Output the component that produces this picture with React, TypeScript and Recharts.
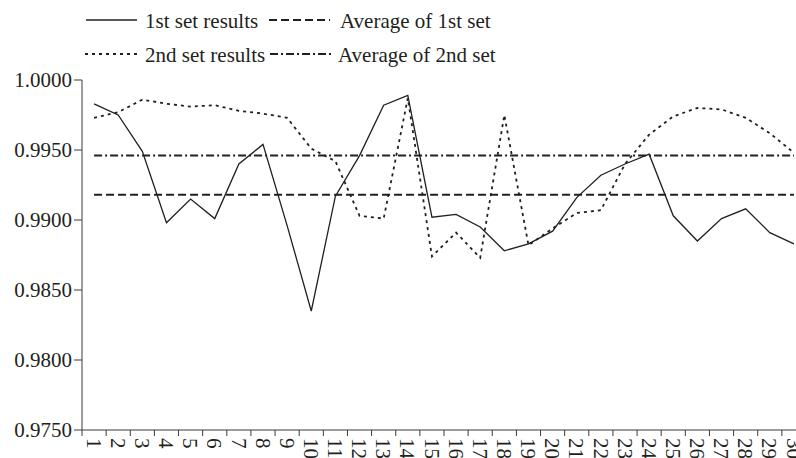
import { LineChart, Line, XAxis, YAxis, Legend } from 'recharts';

const runs = [
  1, 2, 3, 4, 5, 6, 7, 8, 9, 10, 11, 12, 13, 14, 15, 16, 17, 18, 19, 20, 21,
  22, 23, 24, 25, 26, 27, 28, 29, 30,
];

const firstSet = [
  0.9983, 0.9975, 0.9949, 0.9898, 0.9915, 0.9901, 0.994, 0.9954, 0.9896,
  0.9835, 0.9917, 0.9946, 0.9982, 0.9989, 0.9902, 0.9904, 0.9895, 0.9878,
  0.9883, 0.9892, 0.9916, 0.9932, 0.994, 0.9947, 0.9903, 0.9885, 0.9901,
  0.9908, 0.9891, 0.9883,
];

const secondSet = [
  0.9973, 0.9977, 0.9986, 0.9983, 0.9981, 0.9982, 0.9978, 0.9976, 0.9973,
  0.9951, 0.9942, 0.9903, 0.9901, 0.9987, 0.9874, 0.9891, 0.9873, 0.9975,
  0.9882, 0.9894, 0.9905, 0.9907, 0.994, 0.9961, 0.9974, 0.998, 0.9979,
  0.9973, 0.9962, 0.9948,
];

const firstAverage = 0.9918;
const secondAverage = 0.9946;

const yTicks = [0.975, 0.98, 0.985, 0.99, 0.995, 1.0];

const series = [
  { key: 'first', name: '1st set results', dash: undefined, width: 1.3 },
  { key: 'firstAvg', name: 'Average of 1st set', dash: '8 4', width: 2 },
  { key: 'second', name: '2nd set results', dash: '3 4', width: 1.8 },
  { key: 'secondAvg', name: 'Average of 2nd set', dash: '8 3 2 3', width: 2 },
];

const data = runs.map((run, i) => ({
  run,
  first: firstSet[i],
  second: secondSet[i],
  firstAvg: firstAverage,
  secondAvg: secondAverage,
}));

const INK = '#231f20';
const FONT = "'Liberation Serif', 'Times New Roman', serif";
const textStyle = { fontFamily: FONT, fontSize: 21 };

const W = 830;
const H = 470;
const MARGIN = { top: 80, right: 24, left: 0, bottom: 0 };
const Y_WIDTH = 82;
const HALF_BAND = (W - MARGIN.right - Y_WIDTH) / runs.length / 2;

// tick lines sit on the boundaries between runs, labels in the middle
const boundaries = [0, ...runs].map((r) => r + 0.5);

const RunTick = (props: any) => {
  const { x, y, payload } = props;
  const label = payload.value + 0.5;
  if (label > runs.length) return null;
  const cx = x + HALF_BAND;
  return (
    <text
      x={cx}
      y={y}
      dy="0.35em"
      transform={`rotate(90, ${cx}, ${y})`}
      textAnchor="start"
      style={textStyle}
      fill={INK}
    >
      {label}
    </text>
  );
};

const ValueTick = (props: any) => {
  const { x, y, payload } = props;
  return (
    <text
      x={x}
      y={y}
      dy="0.35em"
      textAnchor="end"
      style={textStyle}
      fill={INK}
    >
      {payload.value.toFixed(4)}
    </text>
  );
};

const legendSlots = [
  { sx: 86, sw: 51, tx: 145, y: 20 },
  { sx: 269, sw: 61, tx: 340, y: 20 },
  { sx: 85, sw: 52, tx: 145, y: 54 },
  { sx: 270, sw: 63, tx: 338, y: 54 },
];

const SetLegend = () => (
  <svg width={520} height={72}>
    {series.map((s, i) => {
      const slot = legendSlots[i];
      return (
        <g key={s.key}>
          <line
            x1={slot.sx}
            x2={slot.sx + slot.sw}
            y1={slot.y}
            y2={slot.y}
            stroke={INK}
            strokeWidth={s.width}
            strokeDasharray={s.dash}
          />
          <text x={slot.tx} y={slot.y + 8} style={textStyle} fill={INK}>
            {s.name}
          </text>
        </g>
      );
    })}
  </svg>
);

export default function App() {
  return (
    <div
      style={{
        position: 'absolute',
        left: 0,
        top: 0,
        width: 796,
        height: 458,
        overflow: 'hidden',
        background: '#fff',
        fontFamily: FONT,
      }}
    >
      <LineChart width={W} height={H} data={data} margin={MARGIN}>
        <XAxis
          dataKey="run"
          type="number"
          domain={[0.5, 30.5]}
          ticks={boundaries}
          interval={0}
          height={40}
          tickSize={6}
          tickMargin={2}
          tick={<RunTick />}
          stroke="#3a3a3a"
          tickLine={{ stroke: '#3a3a3a' }}
        />
        <YAxis
          domain={[0.975, 1.0]}
          ticks={yTicks}
          interval={0}
          width={Y_WIDTH}
          tickSize={8}
          tickMargin={2}
          tick={<ValueTick />}
          stroke="#3a3a3a"
        />
        <Legend
          layout="horizontal"
          verticalAlign="middle"
          align="center"
          wrapperStyle={{ top: 0, left: 0, width: 520 }}
          content={() => <SetLegend />}
        />
        {series.map((s) => (
          <Line
            key={s.key}
            dataKey={s.key}
            name={s.name}
            type="linear"
            stroke={INK}
            strokeWidth={s.width}
            strokeDasharray={s.dash}
            dot={false}
            activeDot={false}
            isAnimationActive={false}
          />
        ))}
      </LineChart>
    </div>
  );
}
